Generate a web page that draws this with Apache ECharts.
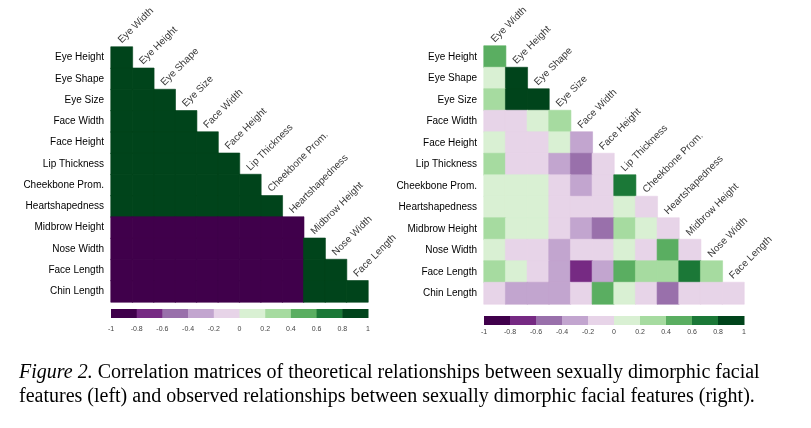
<!DOCTYPE html>
<html>
<head>
<meta charset="utf-8">
<script src="https://cdn.jsdelivr.net/npm/echarts@6/dist/echarts.min.js"></script>
<style>
html,body{margin:0;padding:0;background:#fff;}
#c{width:811px;height:428px;}
</style>
</head>
<body>
<div id="c"></div>
<script>
const rowLabels = ['Eye Height','Eye Shape','Eye Size','Face Width','Face Height','Lip Thickness','Cheekbone Prom.','Heartshapedness','Midbrow Height','Nose Width','Face Length','Chin Length'];
const colLabels = ['Eye Width','Eye Height','Eye Shape','Eye Size','Face Width','Face Height','Lip Thickness','Cheekbone Prom.','Heartshapedness','Midbrow Height','Nose Width','Face Length'];

// theoretical correlations (left), lower triangle rows
const theoretical = [
  [0.9],
  [0.9,0.9],
  [0.9,0.9,0.9],
  [0.9,0.9,0.9,0.9],
  [0.9,0.9,0.9,0.9,0.9],
  [0.9,0.9,0.9,0.9,0.9,0.9],
  [0.9,0.9,0.9,0.9,0.9,0.9,0.9],
  [0.9,0.9,0.9,0.9,0.9,0.9,0.9,0.9],
  [-0.9,-0.9,-0.9,-0.9,-0.9,-0.9,-0.9,-0.9,-0.9],
  [-0.9,-0.9,-0.9,-0.9,-0.9,-0.9,-0.9,-0.9,-0.9,0.9],
  [-0.9,-0.9,-0.9,-0.9,-0.9,-0.9,-0.9,-0.9,-0.9,0.9,0.9],
  [-0.9,-0.9,-0.9,-0.9,-0.9,-0.9,-0.9,-0.9,-0.9,0.9,0.9,0.9]
];
// observed correlations (right), lower triangle rows
const observed = [
  [0.5],
  [0.1,0.9],
  [0.3,0.9,0.9],
  [-0.1,-0.1,0.1,0.3],
  [0.1,-0.1,-0.1,0.1,-0.3],
  [0.3,-0.1,-0.1,-0.3,-0.5,-0.1],
  [0.1,0.1,0.1,-0.1,-0.3,-0.1,0.7],
  [0.1,0.1,0.1,-0.1,-0.1,-0.1,0.1,-0.1],
  [0.3,0.1,0.1,-0.1,-0.3,-0.5,0.3,0.1,-0.1],
  [0.1,-0.1,-0.1,-0.3,-0.1,-0.1,0.1,-0.1,0.5,-0.1],
  [0.3,0.1,-0.1,-0.3,-0.7,-0.3,0.5,0.3,0.3,0.7,0.3],
  [-0.1,-0.3,-0.3,-0.3,-0.1,0.5,0.1,-0.1,-0.5,-0.1,-0.1,-0.1]
];
const colorBreaks = [-1,-0.8,-0.6,-0.4,-0.2,0,0.2,0.4,0.6,0.8,1];
const pieceColors = ['#40004b','#762a83','#9970ab','#c2a5cf','#e7d4e8','#d9f0d3','#a6dba0','#5aae61','#1b7837','#00441b'];

function colorFor(v){
  for (let k = 0; k < pieceColors.length; k++) {
    if (v >= colorBreaks[k] && v < colorBreaks[k+1]) return pieceColors[k];
  }
  return pieceColors[pieceColors.length-1];
}
function toCells(rows){
  const out = [];
  rows.forEach((r,i)=>r.forEach((v,j)=>out.push({value:[j,i,v],
    itemStyle:{borderColor:colorFor(v), borderWidth:0.6}})));
  return out;
}
const diagLabels = colLabels.map((n,j)=>[j,j,n]);
const barPieces = pieceColors.map((c,k)=>[colorBreaks[k],colorBreaks[k+1]]);

const LF = 'Liberation Sans, Arial, sans-serif';
const SF = 'Liberation Serif, Times New Roman, serif';
const grids = [
  {left:111, top:47, width:257, height:255},
  {left:484, top:46, width:260, height:258},
  {left:111, top:309, width:257, height:9},
  {left:484, top:316, width:260, height:9}
];
function catX(i){return {type:'category', gridIndex:i, data:colLabels, show:false};}
function catY(i){return {type:'category', gridIndex:i, data:rowLabels, inverse:true,
  axisLine:{show:false}, axisTick:{show:false}, splitLine:{show:false},
  axisLabel:{fontFamily:LF, fontSize:10, color:'#000', margin:7}};}
function barX(i, m){return {type:'value', gridIndex:i, min:-1, max:1, interval:0.2,
  axisLine:{show:false}, axisTick:{show:false}, splitLine:{show:false},
  axisLabel:{fontFamily:LF, fontSize:7, color:'#444', margin:m}};}
function barY(i){return {type:'value', gridIndex:i, min:0, max:1, show:false};}

function heat(i, rows){
  return {type:'heatmap', xAxisIndex:i, yAxisIndex:i, data:toCells(rows),
    emphasis:{disabled:true}, silent:true};
}
function diag(i){
  return {type:'scatter', xAxisIndex:i, yAxisIndex:i, data:diagLabels, symbolSize:0, silent:true,
    label:{show:true, formatter:p=>p.data[2], position:[-2,-16], align:'left', verticalAlign:'middle',
      rotate:45, fontFamily:LF, fontSize:10, color:'#000'}};
}
function cbar(i){
  return {type:'custom', xAxisIndex:i, yAxisIndex:i, data:barPieces, silent:true,
    renderItem:(params, api)=>{
      const a = api.coord([api.value(0),1]);
      const b = api.coord([api.value(1),0]);
      return {type:'rect', shape:{x:a[0], y:a[1], width:b[0]-a[0]+0.5, height:b[1]-a[1]},
        style:{fill:pieceColors[params.dataIndex]}};
    }};
}

const chart = echarts.init(document.getElementById('c'));
chart.setOption({
  animation:false,
  backgroundColor:'#fff',
  title:{
    left:19, top:361, padding:0,
    text:'{i|Figure 2.} Correlation matrices of theoretical relationships between sexually dimorphic facial\nfeatures (left) and observed relationships between sexually dimorphic facial features (right).',
    textStyle:{fontFamily:SF, fontSize:20, fontWeight:'normal', color:'#000', lineHeight:24,
      rich:{i:{fontFamily:SF, fontSize:20, fontStyle:'italic', color:'#000', lineHeight:24}}}
  },
  grid:grids,
  xAxis:[catX(0), catX(1), barX(2, 8), barX(3, 4)],
  yAxis:[catY(0), catY(1), barY(2), barY(3)],
  visualMap:{type:'piecewise', show:false, seriesIndex:[0,1],
    pieces:pieceColors.map((c,k)=>({gte:colorBreaks[k], lt:colorBreaks[k+1], color:c}))},
  series:[heat(0, theoretical), heat(1, observed), diag(0), diag(1), cbar(2), cbar(3)]
});
</script>
</body>
</html>
